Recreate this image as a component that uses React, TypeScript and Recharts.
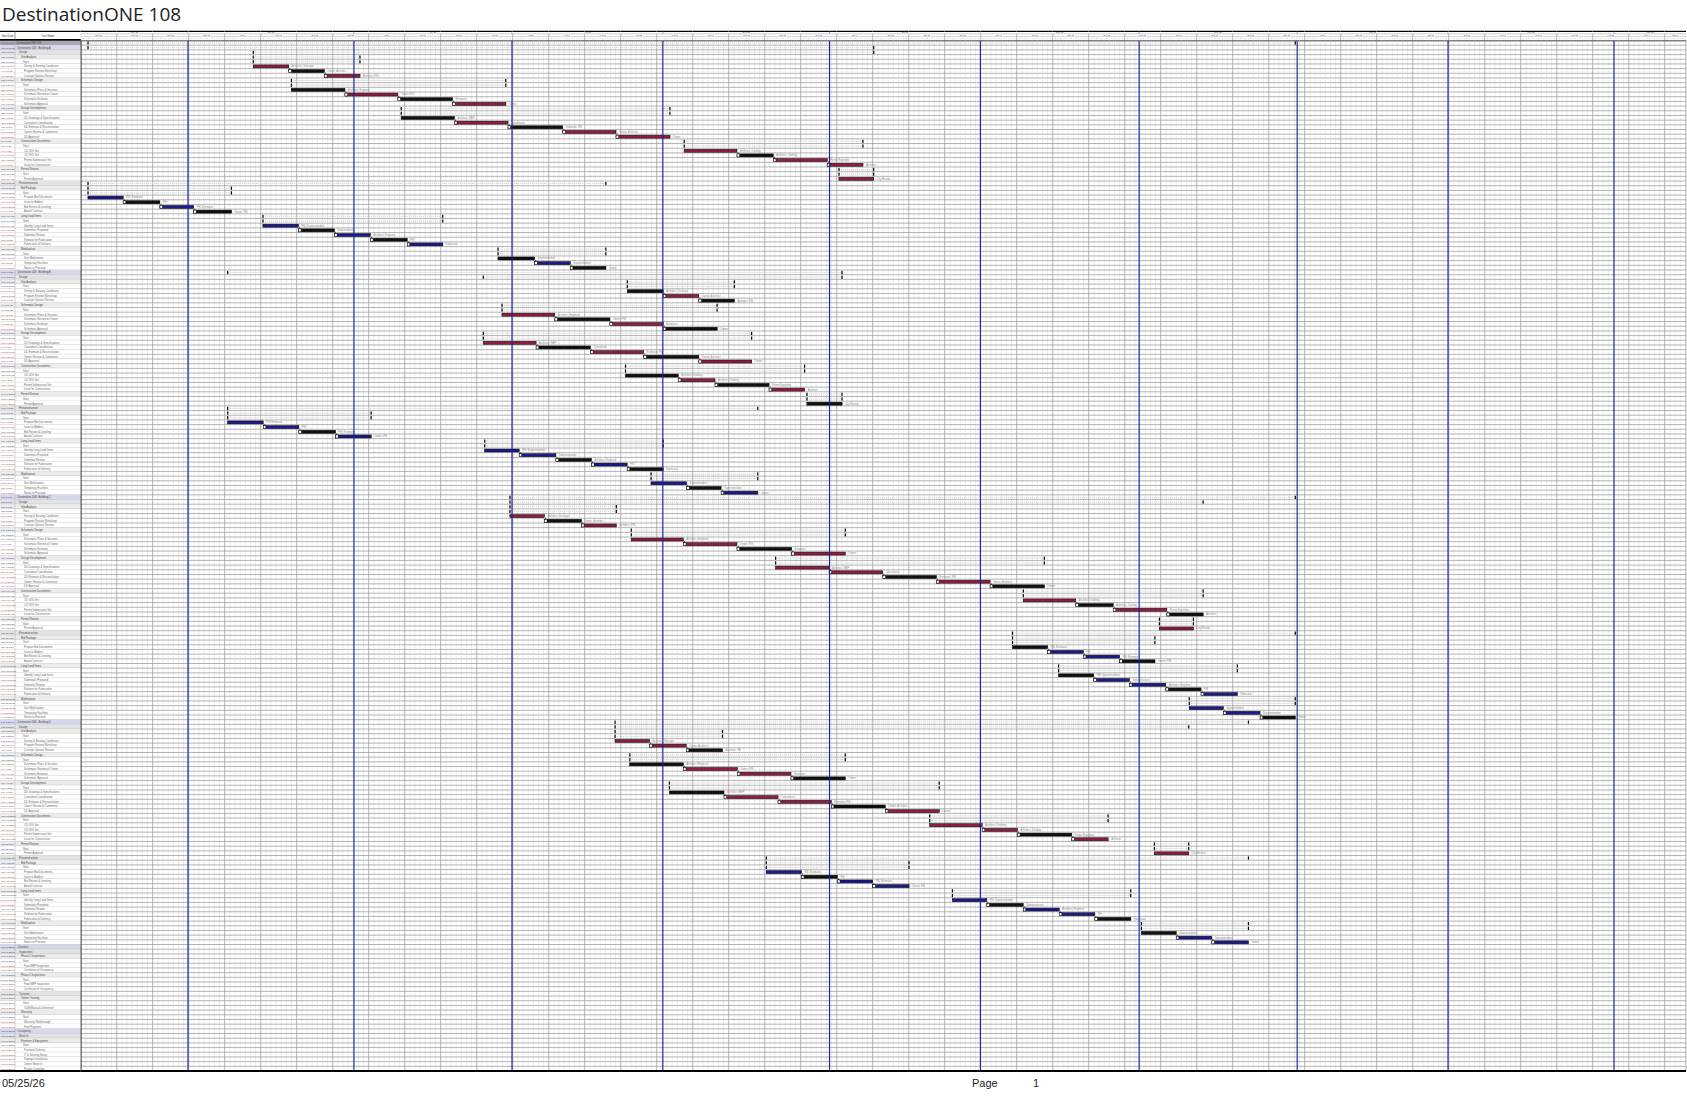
import React from 'react';
import { BarChart, Bar, XAxis, YAxis, CartesianGrid, ReferenceLine } from 'recharts';

// ---------- text ----------
const TITLE = 'DestinationONE 108';
const PRINT_DATE = '05/25/26';
const PAGE_LABEL = 'Page';
const PAGE_NUM = '1';
const TABLE_HEADERS = ['Start Date', 'Task Name'];

// ---------- timescale (weeks from Sun May 10 2026) ----------
const WEEK_LABELS = [
  'May 10', 'May 17', 'May 24', 'May 31', 'Jun 7', 'Jun 14', 'Jun 21', 'Jun 28', 'Jul 5', 'Jul 12',
  'Jul 19', 'Jul 26', 'Aug 2', 'Aug 9', 'Aug 16', 'Aug 23', 'Aug 30', 'Sep 6', 'Sep 13', 'Sep 20',
  'Sep 27', 'Oct 4', 'Oct 11', 'Oct 18', 'Oct 25', 'Nov 1', 'Nov 8', 'Nov 15', 'Nov 22', 'Nov 29',
  'Dec 6', 'Dec 13', 'Dec 20', 'Dec 27', 'Jan 3', 'Jan 10', 'Jan 17', 'Jan 24', 'Jan 31', 'Feb 7',
  'Feb 14', 'Feb 21', 'Feb 28', 'Mar 7', 'Mar 14',
];
const MONTH_LABELS = ["May '26", "Jun '26", "Jul '26", "Aug '26", "Sep '26", "Oct '26", "Nov '26", "Dec '26", "Jan '27", "Feb '27", "Mar '27"];
const MONTH_BOUNDS = [2.98, 7.59, 11.98, 16.17, 20.8, 24.99, 29.4, 33.79, 37.98, 42.59];
const DAY_LETTERS = ['S', 'M', 'T', 'W', 'T', 'F', 'S'];
const WEEKS_SPAN = 44.59;

// ---------- tasks: relative rows inside each 48-row block ----------
const TASK_REL = [4, 5, 6, 9, 10, 11, 12, 15, 16, 17, 18, 19, 22, 23, 24, 25, 28, 32, 33, 34, 35, 38, 39, 40, 41, 42, 45, 46, 47];
const GROUP_FIRST = [0, 3, 7, 12, 16, 17, 21, 26];
const TASK_LABELS = [
  'Architect, Surveyor', 'Owner, Architect', 'Architect, PM', 'Architect, Engineer', 'Owner, PM', 'Estimator',
  'Owner', 'Architect, MEP', 'Consultants', 'Estimator, PM', 'Owner, Architect', 'Owner', 'Architect, Drafting',
  'Architect, Drafting', 'Permit Expeditor', 'Architect', 'City Review', 'PM, Estimator', 'PM', 'PM, Estimator',
  'Owner, PM', 'PM, Superintendent', 'Subcontractors', 'Architect, Engineer', 'PM', 'Fabricator', 'Superintendent',
  'Superintendent', 'Owner',
];

const B1_START = [4.79, 5.78, 6.77, 5.85, 7.34, 8.81, 10.33, 8.9, 10.38, 11.87, 13.39, 14.87, 16.76, 18.23, 19.24, 20.74, 21.06, 0.2, 1.18, 2.2, 3.14, 5.06, 6.05, 7.05, 8.05, 9.07, 11.59, 12.61, 13.6];
const B1_END = [5.78, 6.77, 7.76, 7.34, 8.81, 10.33, 11.81, 10.38, 11.87, 13.39, 14.87, 16.37, 18.23, 19.24, 20.74, 21.73, 22.03, 1.18, 2.2, 3.14, 4.19, 6.05, 7.05, 8.05, 9.07, 10.06, 12.61, 13.6, 14.59];
const B1_TYPE = ['D', 'O', 'D', 'O', 'D', 'O', 'D', 'O', 'D', 'O', 'D', 'D', 'D', 'O', 'D', 'D', 'D', 'C', 'O', 'C', 'O', 'C', 'O', 'C', 'O', 'C', 'O', 'C', 'O'];

const B2_START = [15.18, 16.18, 17.17, 11.7, 13.17, 14.7, 16.18, 11.18, 12.65, 14.16, 15.64, 17.17, 15.13, 16.6, 17.62, 19.12, 20.17, 4.08, 5.07, 6.06, 7.08, 11.22, 12.18, 13.2, 14.19, 15.18, 15.84, 16.83, 17.79];
const B2_END = [16.18, 17.17, 18.16, 13.17, 14.7, 16.18, 17.68, 12.65, 14.16, 15.64, 17.17, 18.64, 16.6, 17.62, 19.12, 20.11, 21.15, 5.07, 6.06, 7.08, 8.07, 12.18, 13.2, 14.19, 15.18, 16.18, 16.83, 17.79, 18.81];
const B2_TYPE = ['O', 'D', 'O', 'D', 'O', 'D', 'O', 'D', 'O', 'D', 'O', 'D', 'O', 'D', 'O', 'D', 'O', 'C', 'C', 'O', 'C', 'C', 'C', 'O', 'C', 'O', 'C', 'O', 'C'];

const B3_START = [11.92, 12.88, 13.91, 15.29, 16.74, 18.23, 19.75, 19.3, 20.79, 22.28, 23.77, 25.26, 26.18, 27.64, 28.68, 30.17, 29.96, 25.88, 26.86, 27.85, 28.86, 27.16, 28.14, 29.13, 30.14, 31.12, 30.79, 31.74, 32.76];
const B3_END = [12.88, 13.91, 14.88, 16.74, 18.23, 19.75, 21.24, 20.79, 22.28, 23.77, 25.26, 26.77, 27.64, 28.68, 30.17, 31.18, 30.91, 26.86, 27.85, 28.86, 29.84, 28.14, 29.13, 30.14, 31.12, 32.13, 31.74, 32.76, 33.74];
const B3_TYPE = ['D', 'O', 'D', 'D', 'D', 'O', 'D', 'D', 'D', 'O', 'D', 'O', 'D', 'O', 'D', 'O', 'D', 'O', 'C', 'C', 'O', 'O', 'C', 'C', 'O', 'C', 'C', 'C', 'O'];

const B4_START = [14.84, 15.8, 16.82, 15.25, 16.74, 18.24, 19.73, 16.35, 17.87, 19.37, 20.85, 22.35, 23.58, 25.04, 26.02, 27.53, 29.82, 19.04, 20.02, 21.02, 22.0, 24.21, 25.17, 26.18, 27.18, 28.17, 29.46, 30.43, 31.42];
const B4_END = [15.8, 16.82, 17.83, 16.74, 18.24, 19.73, 21.24, 17.87, 19.37, 20.85, 22.35, 23.85, 25.04, 26.02, 27.53, 28.54, 30.78, 20.02, 21.02, 22.0, 23.01, 25.17, 26.18, 27.18, 28.17, 29.17, 30.43, 31.42, 32.44];
const B4_TYPE = ['D', 'D', 'O', 'O', 'D', 'D', 'O', 'O', 'D', 'D', 'O', 'D', 'D', 'D', 'O', 'D', 'D', 'C', 'O', 'C', 'C', 'C', 'O', 'C', 'C', 'O', 'O', 'C', 'C'];

// ---------- outline ----------
const BLOCK_FIRST_ROWS = [1, 49, 97, 145];
const BLOCK_TITLES = ['Destination 108 - Building A', 'Destination 108 - Building B', 'Destination 108 - Building C', 'Destination 108 - Building D'];
const BLOCK_KINDS = [
  'phase', 'sum2', 'sum', 'start', 'task', 'task', 'task', 'sum', 'start', 'task', 'task', 'task', 'task',
  'sum', 'start', 'task', 'task', 'task', 'task', 'task', 'sum', 'start', 'task', 'task', 'task', 'task',
  'sum', 'start', 'task', 'sum2', 'sum', 'start', 'task', 'task', 'task', 'task', 'sum', 'start', 'task',
  'task', 'task', 'task', 'task', 'sum', 'start', 'task', 'task', 'task',
];
const BLOCK_NAMES = [
  '', 'Design', 'Site Analysis', 'Start', 'Survey & Existing Conditions', 'Program Review Workshop', 'Concept Options Review',
  'Schematic Design', 'Start', 'Schematic Plans & Sections', 'Schematic Review w/ Owner', 'Schematic Estimate', 'Schematic Approval',
  'Design Development', 'Start', 'DD Drawings & Specifications', 'Consultant Coordination', 'DD Estimate & Reconciliation', 'Owner Review & Comments', 'DD Approval',
  'Construction Documents', 'Start', 'CD 50% Set', 'CD 90% Set', 'Permit Submission Set', 'Issue for Construction',
  'Permit Review', 'Start', 'Permit Approval', 'Preconstruction', 'Bid Package', 'Start', 'Prepare Bid Documents', 'Issue to Bidders',
  'Bid Review & Leveling', 'Award Contract', 'Long Lead Items', 'Start', 'Identify Long Lead Items', 'Submittals Prepared',
  'Submittal Review', 'Release for Fabrication', 'Fabrication & Delivery', 'Mobilization', 'Start', 'Site Mobilization',
  'Temporary Facilities', 'Notice to Proceed',
];
const SUMMARY_GROUPS: [number[], number, number][] = [
  [[0], 0, 28], [[1], 0, 16], [[2, 3], 0, 2], [[7, 8], 3, 6], [[13, 14], 7, 11], [[20, 21], 12, 15],
  [[26, 27], 16, 16], [[29], 17, 28], [[30, 31], 17, 20], [[36, 37], 21, 25], [[43, 44], 26, 28],
];
const TAIL_FIRST_ROW = 193;
const TAIL_KINDS = [
  'phase', 'sum2', 'sum', 'start', 'task', 'task', 'sum', 'start', 'task', 'task', 'sum2', 'sum', 'start', 'task',
  'sum', 'start', 'task', 'task', 'phase', 'sum2', 'sum', 'start', 'task', 'task', 'task', 'task', 'task',
];
const TAIL_NAMES = [
  'Closeout', 'Inspections', 'Phase 1 Inspections', 'Start', 'Final MEP Inspection', 'Certificate of Occupancy',
  'Phase 2 Inspections', 'Start', 'Final MEP Inspection', 'Certificate of Occupancy', 'Turnover', 'Owner Training', 'Start',
  'O&M Manuals Delivered', 'Warranty', 'Start', 'Warranty Walkthrough', 'Final Payment', 'Occupancy', 'Move In',
  'Furniture & Equipment', 'Start', 'Furniture Delivery', 'IT & Security Setup', 'Signage Installation', 'Owner Move-In',
  'Project Complete',
];

// ---------- styles ----------
const TYPE_COLOR: Record<string, string> = { D: '#8f1d40', O: '#111111', C: '#1b1b8c' };
const ROW_FILL: Record<string, string> = { project: '#a8a8a8', phase: '#d5d8ef', sum2: '#e3e3e3', sum: '#ececec', start: '#ffffff', task: '#ffffff' };
const INDENT: Record<string, number> = { project: 1.5, phase: 2.5, sum2: 4, sum: 6, start: 8, task: 9 };

const CHART_W = 1687;
const CHART_H = 1073;
const MARGIN = { top: 31, right: 1, bottom: 1, left: 0 };
const TABLE_W = 80.7;
const COL1_W = 15;
const AX_H = 9.5;
const N_ROWS = 220;
const PLOT_H = CHART_H - MARGIN.top - MARGIN.bottom - AX_H - 1;
const PLOT_W = CHART_W - MARGIN.left - MARGIN.right - TABLE_W;
const ROW_H = PLOT_H / N_ROWS;
const PX_WEEK = PLOT_W / WEEKS_SPAN;

// ---------- build rows ----------
type Row = { id: string; kind: string; name: string; span?: [number, number]; type?: string; linked?: boolean; label?: string; date: string };
const BLOCKS = [
  { s: B1_START, e: B1_END, t: B1_TYPE },
  { s: B2_START, e: B2_END, t: B2_TYPE },
  { s: B3_START, e: B3_END, t: B3_TYPE },
  { s: B4_START, e: B4_END, t: B4_TYPE },
];
const BASE = Date.UTC(2026, 4, 10);
const WD = ['Sun', 'Mon', 'Tue', 'Wed', 'Thu', 'Fri', 'Sat'];
function fmtDate(w: number) {
  const d = new Date(BASE + Math.round(w * 7) * 86400000);
  return `${WD[d.getUTCDay()]} ${d.getUTCMonth() + 1}/${d.getUTCDate()}/${String(d.getUTCFullYear()).slice(2)}`;
}

const rows: Row[] = [];
rows.push({ id: 'r0', kind: 'project', name: TITLE, date: '' });
BLOCK_FIRST_ROWS.forEach((first, b) => {
  BLOCK_KINDS.forEach((kind, rel) => {
    rows.push({ id: 'r' + (first + rel), kind, name: rel === 0 ? BLOCK_TITLES[b] : BLOCK_NAMES[rel], date: '' });
  });
  const blk = BLOCKS[b];
  TASK_REL.forEach((rel, t) => {
    const r = rows[first + rel];
    r.span = [blk.s[t], blk.e[t]];
    r.type = blk.t[t];
    r.linked = !GROUP_FIRST.includes(t);
    r.label = TASK_LABELS[t];
  });
  SUMMARY_GROUPS.forEach(([rels, a, z]) => {
    const lo = Math.min(...blk.s.slice(a, z + 1));
    const hi = Math.max(...blk.e.slice(a, z + 1));
    rels.forEach((rel) => { rows[first + rel].span = [lo, hi]; });
  });
});
TAIL_KINDS.forEach((kind, i) => rows.push({ id: 'r' + (TAIL_FIRST_ROW + i), kind, name: TAIL_NAMES[i], date: '' }));
rows[0].span = [
  Math.min(...BLOCKS.map((b) => Math.min(...b.s))),
  Math.max(...BLOCKS.map((b) => Math.max(...b.e))),
];
rows.forEach((r) => { r.date = r.span ? fmtDate(r.span[0]) : 'Mon 5/25/26'; });

const WEEK_TICKS = WEEK_LABELS.map((_, i) => i);
const MONTH_SEGS = [0, ...MONTH_BOUNDS, WEEKS_SPAN];
const DAY_COUNT = Math.floor(WEEKS_SPAN * 7);

// ---------- renderers ----------
function TableTick(props: any) {
  const { x, y, payload } = props;
  const idx = Number(String(payload.value).slice(1));
  const row = rows[idx];
  if (!row) return null;
  const top = y - ROW_H / 2;
  const left = x - TABLE_W;
  const isTask = row.kind === 'task';
  return (
    <g>
      <rect x={left} y={top} width={TABLE_W} height={ROW_H} fill={ROW_FILL[row.kind]} />
      <line x1={left} x2={x} y1={top + ROW_H} y2={top + ROW_H} stroke="#a8a8a8" strokeWidth={0.55} />
      <line x1={left + COL1_W} x2={left + COL1_W} y1={top} y2={top + ROW_H} stroke="#a8a8a8" strokeWidth={0.5} />
      <text x={left + 1} y={top + ROW_H * 0.72} fontSize={2.5} fill={isTask ? '#b04848' : '#4a4a8a'} fontFamily="Liberation Sans">{row.date}</text>
      <text x={left + COL1_W + INDENT[row.kind]} y={top + ROW_H * 0.72} fontSize={2.7} fill={isTask || row.kind === 'start' ? '#6a6a6a' : '#444'} fontFamily="Liberation Sans">{row.name}</text>
      {idx === 0 && (
        <g>
          <rect x={left} y={top - AX_H} width={TABLE_W} height={AX_H} fill="#ffffff" />
          <line x1={left} x2={x} y1={top - AX_H + 0.4} y2={top - AX_H + 0.4} stroke="#000" strokeWidth={1.2} />
          <line x1={left} x2={x} y1={top - 0.6} y2={top - 0.6} stroke="#000" strokeWidth={1.6} />
          <line x1={left + COL1_W} x2={left + COL1_W} y1={top - AX_H} y2={top} stroke="#555" strokeWidth={0.6} />
          <text x={left + COL1_W / 2} y={top - AX_H / 2 + 0.8} fontSize={2.6} textAnchor="middle" fill="#333" fontFamily="Liberation Sans">{TABLE_HEADERS[0]}</text>
          <text x={left + COL1_W + (TABLE_W - COL1_W) / 2} y={top - AX_H / 2 + 0.8} fontSize={2.6} textAnchor="middle" fill="#333" fontFamily="Liberation Sans">{TABLE_HEADERS[1]}</text>
        </g>
      )}
      {idx === N_ROWS - 1 && (
        <line x1={left} x2={x} y1={top + ROW_H} y2={top + ROW_H} stroke="#000" strokeWidth={2} />
      )}
    </g>
  );
}

function WeekTick(props: any) {
  const { x, y, payload } = props;
  const w = Number(payload.value);
  const top = y - AX_H;
  const cw = Math.min(PX_WEEK, (WEEKS_SPAN - w) * PX_WEEK);
  if (cw <= 0) return null;
  const t1 = top + 2.8;
  const t2 = top + 5.4;
  const monthMarks: React.ReactNode[] = [];
  MONTH_BOUNDS.forEach((b, i) => {
    if (b >= w && b < w + 1) {
      const bx = x + (b - w) * PX_WEEK;
      monthMarks.push(<line key={'mb' + i} x1={bx} x2={bx} y1={top} y2={t1} stroke="#666" strokeWidth={0.5} />);
    }
  });
  for (let i = 0; i < MONTH_LABELS.length; i++) {
    const c = (MONTH_SEGS[i] + MONTH_SEGS[i + 1]) / 2;
    if (c >= w && c < w + 1) {
      monthMarks.push(
        <text key={'ml' + i} x={x + (c - w) * PX_WEEK} y={t1 - 0.6} fontSize={2.2} textAnchor="middle" fill="#555" fontFamily="Liberation Sans">{MONTH_LABELS[i]}</text>
      );
    }
  }
  return (
    <g>
      <rect x={x} y={top} width={cw} height={AX_H} fill="#ffffff" />
      <line x1={x} x2={x + cw} y1={top + 0.4} y2={top + 0.4} stroke="#000" strokeWidth={1.2} />
      <line x1={x} x2={x + cw} y1={t1} y2={t1} stroke="#888" strokeWidth={0.4} />
      <line x1={x} x2={x + cw} y1={t2} y2={t2} stroke="#999" strokeWidth={0.4} />
      <line x1={x} x2={x} y1={t1} y2={y} stroke="#777" strokeWidth={0.5} />
      {DAY_LETTERS.map((d, i) => (
        i * PX_WEEK / 7 < cw ? (
          <g key={i}>
            {i > 0 && <line x1={x + (i * PX_WEEK) / 7} x2={x + (i * PX_WEEK) / 7} y1={t2} y2={y} stroke="#c8c8c8" strokeWidth={0.3} />}
            <text x={x + ((i + 0.5) * PX_WEEK) / 7} y={t2 + 2.4} fontSize={1.8} textAnchor="middle" fill="#777" fontFamily="Liberation Sans">{d}</text>
          </g>
        ) : null
      ))}
      {cw > 10 && (
        <text x={x + cw / 2} y={t2 - 0.6} fontSize={2.1} textAnchor="middle" fill="#555" fontFamily="Liberation Sans">{WEEK_LABELS[w]}</text>
      )}
      {monthMarks}
    </g>
  );
}

function GanttShape(props: any) {
  const { x, y, width, height, payload } = props;
  if (!payload || !payload.span || !isFinite(x) || !isFinite(width)) return null;
  const cy = y + height / 2;
  if (payload.kind !== 'task') {
    return (
      <g>
        <line x1={x} x2={x + width} y1={cy} y2={cy} stroke="#cfcfcf" strokeWidth={0.9} strokeDasharray="1.2 0.8" />
        <rect x={x - 0.5} y={cy - 1.6} width={1.2} height={3.2} fill="#000" />
        <rect x={x + width - 0.7} y={cy - 1.6} width={1.2} height={3.2} fill="#000" />
      </g>
    );
  }
  const color = TYPE_COLOR[payload.type] || '#111';
  return (
    <g>
      {payload.linked && (
        <line x1={x + 1} x2={x + 1} y1={y - (ROW_H - height)} y2={y} stroke="#000" strokeWidth={0.6} />
      )}
      <rect x={x} y={y} width={width} height={height} fill={color} stroke="#000" strokeWidth={0.5} />
      {payload.linked && (
        <rect x={x} y={y} width={2.6} height={height} fill="#fff" stroke="#000" strokeWidth={0.5} />
      )}
      <text x={x + width + 3} y={cy + 0.9} fontSize={2.6} fill="#8a8a8a" fontFamily="Liberation Sans">{payload.label}</text>
    </g>
  );
}

function rowLines({ offset }: any) {
  const out: number[] = [];
  for (let i = 1; i < N_ROWS; i++) out.push(offset.top + (i * offset.height) / N_ROWS);
  return out;
}
function dayLines({ offset }: any) {
  const out: number[] = [];
  for (let d = 1; d <= DAY_COUNT; d++) {
    if (d % 7 !== 0) out.push(offset.left + (d * offset.width) / (WEEKS_SPAN * 7));
  }
  return out;
}

export default function App() {
  return (
    <div style={{ position: 'absolute', left: 0, top: 0, width: 1687, height: 1097, background: '#fff', overflow: 'hidden' }}>
      <BarChart width={CHART_W} height={CHART_H} data={rows} layout="vertical" margin={MARGIN} barSize={3} barCategoryGap={0}>
        <CartesianGrid horizontal={false} stroke="#c2c2c2" strokeWidth={0.6} strokeDasharray="0.9 0.9" verticalCoordinatesGenerator={dayLines} />
        <CartesianGrid stroke="#9c9c9c" strokeWidth={0.75} horizontalCoordinatesGenerator={rowLines} />
        <XAxis type="number" orientation="top" domain={[0, WEEKS_SPAN]} ticks={WEEK_TICKS} interval={0} height={AX_H}
          allowDataOverflow tick={<WeekTick />} tickLine={false} tickSize={0} tickMargin={0}
          axisLine={{ stroke: '#000', strokeWidth: 1.6 }} />
        <XAxis xAxisId="bottom" type="number" orientation="bottom" domain={[0, WEEKS_SPAN]} height={1} allowDataOverflow
          tick={false} tickLine={false} axisLine={{ stroke: '#000', strokeWidth: 2 }} />
        <YAxis type="category" dataKey="id" width={TABLE_W} interval={0} tick={<TableTick />} tickLine={false}
          tickSize={0} tickMargin={0} axisLine={{ stroke: '#000', strokeWidth: 1.5 }} />
        {MONTH_BOUNDS.map((m) => (
          <ReferenceLine key={m} x={m} stroke="#1f1fa6" strokeWidth={1.15} />
        ))}
        <Bar dataKey="span" isAnimationActive={false} shape={<GanttShape />} />
      </BarChart>
      <div style={{ position: 'absolute', left: 2, top: 1, fontFamily: 'Open Sans', fontSize: 19, lineHeight: '26px', color: '#222', whiteSpace: 'nowrap' }}>{TITLE}</div>
      <div style={{ position: 'absolute', left: 2, top: 1076, fontFamily: 'Liberation Sans', fontSize: 11, lineHeight: '14px', color: '#222' }}>{PRINT_DATE}</div>
      <div style={{ position: 'absolute', left: 972, top: 1076, fontFamily: 'Liberation Sans', fontSize: 11, lineHeight: '14px', color: '#222' }}>{PAGE_LABEL}</div>
      <div style={{ position: 'absolute', left: 1033, top: 1076, fontFamily: 'Liberation Sans', fontSize: 11, lineHeight: '14px', color: '#222' }}>{PAGE_NUM}</div>
    </div>
  );
}
